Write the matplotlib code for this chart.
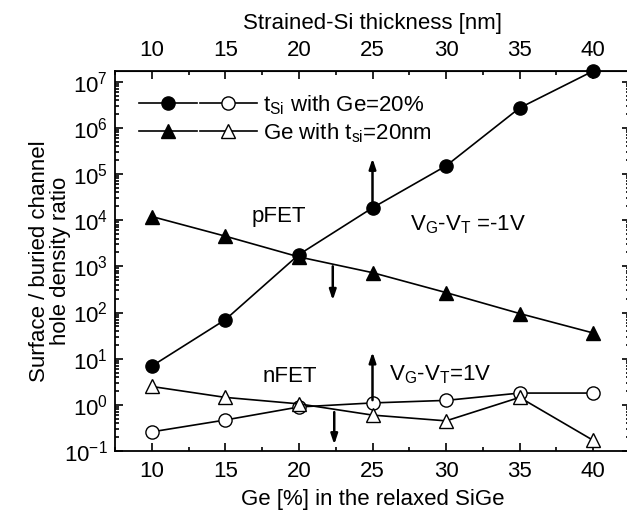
import matplotlib
matplotlib.use("Agg")
import matplotlib.pyplot as plt
from matplotlib.lines import Line2D
from matplotlib.legend_handler import HandlerTuple
from matplotlib.ticker import MultipleLocator, LogLocator, NullFormatter
import numpy as np

plt.rcParams['font.family'] = ['Liberation Sans', 'DejaVu Sans']
plt.rcParams['mathtext.fontset'] = 'custom'
plt.rcParams['mathtext.rm'] = 'Liberation Sans'
plt.rcParams['mathtext.it'] = 'Liberation Sans:italic'

# data
ge_pct = [10, 15, 20, 25, 30, 35, 40]
p_tsi = [6.9, 70, 1800, 1.85e4, 1.5e5, 2.7e6, 1.7e7]
p_ge = [1.2e4, 4500, 1600, 730, 270, 95, 36]
n_tsi = [0.26, 0.47, 0.9, 1.1, 1.25, 1.8, 1.8]
n_ge = [2.5, 1.45, 1.05, 0.6, 0.45, 1.45, 0.17]

top_ticks = [10, 15, 20, 25, 30, 35, 40]

fig = plt.figure(figsize=(6.27, 5.12), dpi=100)
ax = fig.add_axes([0.1834, 0.1191, 0.8214, 0.7422])

ms = 9.5
kw = dict(color='black', lw=1.2, clip_on=False, zorder=3)
l1, = ax.plot(ge_pct, p_tsi, marker='o', ms=ms, mfc='black', **kw)
l2, = ax.plot(ge_pct, p_ge, marker='^', ms=ms + 1, mfc='black', **kw)
l3, = ax.plot(ge_pct, n_tsi, marker='o', ms=ms, mfc='white', **kw)
l4, = ax.plot(ge_pct, n_ge, marker='^', ms=ms + 1, mfc='white', **kw)

ax.set_yscale('log')
ax.set_xlim(7.5, 42.5)
ax.set_ylim(0.1, 1.7e7)

# arrows
arrow = dict(arrowstyle='-|>,head_length=0.6,head_width=0.2', color='black', lw=1.8)
ax.annotate('', xy=(25, 2.5e5), xytext=(25, 1.85e4), arrowprops=arrow)
ax.annotate('', xy=(22.3, 160), xytext=(22.3, 1150), arrowprops=arrow)
ax.annotate('', xy=(25, 16), xytext=(25, 1.1), arrowprops=arrow)
ax.annotate('', xy=(22.4, 0.12), xytext=(22.4, 0.8), arrowprops=arrow)

fs = 16
ax.text(18.6, 1.2e4, 'pFET', fontsize=fs, ha='center', va='center')
ax.text(31.5, 8e3, r'V$_\mathregular{G}$-V$_\mathregular{T}$ =-1V', fontsize=fs,
        ha='center', va='center')
ax.text(19.4, 4.2, 'nFET', fontsize=fs, ha='center', va='center')
ax.text(26.1, 4.6, r'V$_\mathregular{G}$-V$_\mathregular{T}$=1V', fontsize=fs,
        ha='left', va='center')

h1 = Line2D([], [], color='black', lw=1.2, marker='o', ms=ms, mfc='black')
h2 = Line2D([], [], color='black', lw=1.2, marker='o', ms=ms, mfc='white')
h3 = Line2D([], [], color='black', lw=1.2, marker='^', ms=ms + 1, mfc='black')
h4 = Line2D([], [], color='black', lw=1.2, marker='^', ms=ms + 1, mfc='white')
ax.legend([(h1, h2), (h3, h4)],
          [r't$_\mathregular{Si}$ with Ge=20%', r'Ge with t$_\mathregular{si}$=20nm'],
          handler_map={tuple: HandlerTuple(ndivide=None, pad=0.15)},
          loc='upper left', bbox_to_anchor=(0.03, 0.965), frameon=False,
          fontsize=fs, handlelength=5.3, handletextpad=0.25, labelspacing=0.2,
          borderaxespad=0)

ax.xaxis.set_major_locator(MultipleLocator(5))
ax.xaxis.set_minor_locator(MultipleLocator(2.5))
ax.set_xticks(top_ticks)
ax.yaxis.set_major_locator(LogLocator(base=10, numticks=20))
ax.yaxis.set_minor_locator(LogLocator(base=10, subs=np.arange(2, 10), numticks=20))
ax.yaxis.set_minor_formatter(NullFormatter())
ax.tick_params(which='both', direction='in', right=True, labelsize=fs, width=1.2)
ax.tick_params(which='major', length=6)
ax.tick_params(which='minor', length=3)
ax.tick_params(axis='y', pad=5)
ax.tick_params(axis='x', pad=7)
for s in ax.spines.values():
    s.set_linewidth(1.3)

ax.set_xlabel('Ge [%] in the relaxed SiGe', fontsize=fs, labelpad=5)
ax.set_ylabel('Surface / buried channel\nhole density ratio', fontsize=fs,
              linespacing=1.0)
ax.yaxis.set_label_coords(-0.085, 0.5)

top = ax.secondary_xaxis('top')
top.set_xticks(top_ticks)
top.xaxis.set_minor_locator(MultipleLocator(2.5))
top.tick_params(which='both', direction='in', labelsize=fs, width=1.2, pad=7)
top.tick_params(which='major', length=6)
top.tick_params(which='minor', length=3)
top.set_xlabel('Strained-Si thickness [nm]', fontsize=fs, labelpad=8)

fig.savefig('out.png', dpi=100)
